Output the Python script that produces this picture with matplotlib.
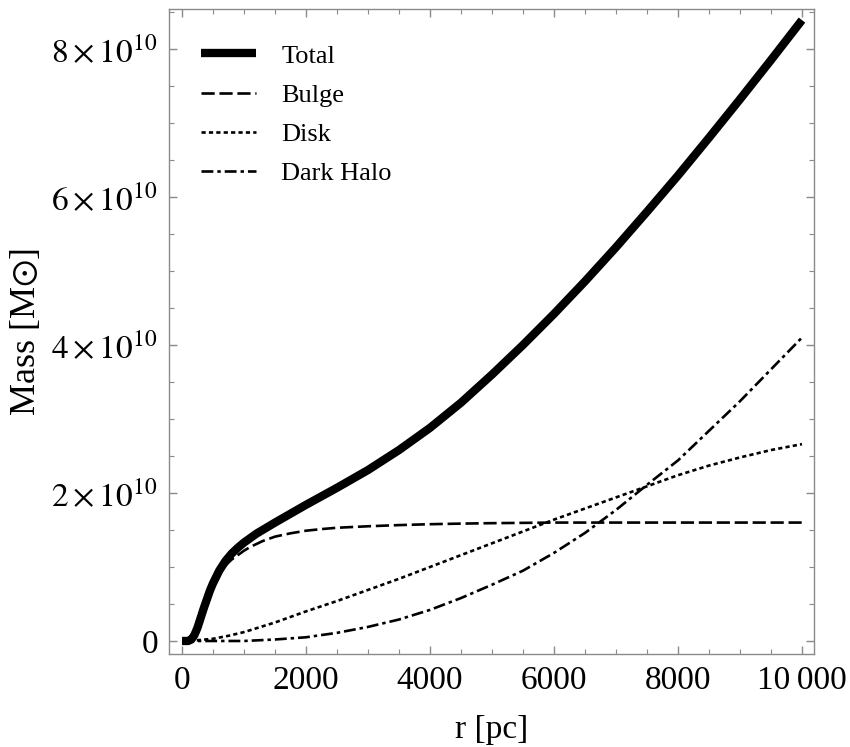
import matplotlib
matplotlib.use("Agg")
import matplotlib.pyplot as plt
from matplotlib.ticker import MultipleLocator, FixedLocator, FixedFormatter

plt.rcParams['font.family'] = ['Liberation Serif', 'DejaVu Serif']
plt.rcParams['mathtext.fontset'] = 'stix'

# radius grid [pc] for each series; masses in units of 1e10 solar masses
r_total = [0, 100, 150, 200, 250, 300, 350, 400, 450, 500, 600, 700, 800, 900, 1000, 1100,
           1200, 1300, 1400, 1500, 1750, 2000, 2500, 3000, 3500, 4000, 4500, 5000, 5500,
           6000, 6500, 7000, 7500, 8000, 8500, 9000, 9500, 10000]
m_total = [0, 0.0, 0.02, 0.08, 0.18, 0.31, 0.44, 0.56, 0.68, 0.78, 0.95, 1.08, 1.18, 1.26,
           1.33, 1.39, 1.45, 1.50, 1.55, 1.60, 1.72, 1.84, 2.07, 2.31, 2.58, 2.88, 3.22,
           3.60, 4.00, 4.42, 4.86, 5.32, 5.80, 6.29, 6.80, 7.32, 7.85, 8.39]

r_bulge = [0, 100, 150, 200, 250, 300, 350, 400, 450, 500, 600, 700, 800, 900, 1000, 1100,
           1200, 1300, 1400, 1500, 1750, 2000, 2250, 2500, 3000, 3500, 4000, 4500, 5000, 5500,
           6000, 7000, 8000, 9000, 10000]
m_bulge = [0, 0.0, 0.02, 0.08, 0.18, 0.31, 0.44, 0.56, 0.67, 0.76, 0.91, 1.02, 1.10, 1.16,
           1.22, 1.27, 1.31, 1.35, 1.38, 1.41, 1.455, 1.49, 1.512, 1.53, 1.55, 1.566, 1.578,
           1.586, 1.592, 1.596, 1.60, 1.60, 1.60, 1.60, 1.60]

r_disk = [0, 250, 500, 750, 1000, 1500, 2000, 2500, 3000, 3500, 4000, 4500, 5000, 5500,
          6000, 6500, 7000, 7500, 8000, 8500, 9000, 9500, 10000]
m_disk = [0, 0.01, 0.03, 0.07, 0.12, 0.25, 0.40, 0.54, 0.69, 0.84, 1.00, 1.16, 1.32, 1.48,
          1.64, 1.79, 1.94, 2.09, 2.24, 2.37, 2.48, 2.58, 2.66]

r_halo = [0, 500, 1000, 1500, 2000, 2500, 3000, 3500, 4000, 4500, 5000, 5500, 6000, 6500,
          7000, 7500, 8000, 8500, 9000, 9500, 10000]
m_halo = [0, 0.0, 0.0, 0.02, 0.05, 0.11, 0.19, 0.29, 0.42, 0.58, 0.76, 0.95, 1.19, 1.46,
          1.77, 2.11, 2.44, 2.84, 3.24, 3.67, 4.1]

scale = 1e10
labels = ["Total", "Bulge", "Disk", "Dark Halo"]
x_ticks = [0, 2000, 4000, 6000, 8000, 10000]
x_ticklabels = ["0", "2000", "4000", "6000", "8000", "10\u2009000"]
y_ticks = [0, 2e10, 4e10, 6e10, 8e10]
y_ticklabels = ["0", r"$2\times10^{10}$", r"$4\times10^{10}$", r"$6\times10^{10}$", r"$8\times10^{10}$"]

fig = plt.figure(figsize=(8.5, 7.47), dpi=100)
ax = fig.add_axes([169/850, 1 - 654/747, (814-169)/850, (654-9)/747])

ax.plot(r_total, [v*scale for v in m_total], color='black', lw=6.0, solid_capstyle='butt',
        solid_joinstyle='round', label=labels[0], zorder=5)
ax.plot(r_bulge, [v*scale for v in m_bulge], color='black', lw=1.9,
        linestyle=(0, (5, 1.8)), label=labels[1])
ax.plot(r_disk, [v*scale for v in m_disk], color='black', lw=1.9,
        linestyle=(0, (1.6, 1.2)), label=labels[2])
ax.plot(r_halo, [v*scale for v in m_halo], color='black', lw=1.9,
        linestyle=(0, (4.5, 1.5, 1.3, 1.5)), label=labels[3])

ax.set_xlim(-210, 10194)
ax.set_ylim(-1.76e9, 8.54e10)

ax.xaxis.set_major_locator(FixedLocator(x_ticks))
ax.xaxis.set_major_formatter(FixedFormatter(x_ticklabels))
ax.xaxis.set_minor_locator(MultipleLocator(500))
ax.yaxis.set_major_locator(FixedLocator(y_ticks))
ax.yaxis.set_major_formatter(FixedFormatter(y_ticklabels))
ax.yaxis.set_minor_locator(MultipleLocator(0.5e10))

gray = '#8a8a8a'
for s in ax.spines.values():
    s.set_color(gray)
    s.set_linewidth(1.0)
ax.tick_params(which='both', direction='in', top=True, right=True, color=gray,
               labelsize=24, labelcolor='black')
ax.tick_params(which='major', length=6, width=1.0, pad=8)
ax.tick_params(which='minor', length=3.5, width=0.8)

ax.set_xlabel("r [pc]", fontsize=24, labelpad=13.5)
ax.set_ylabel(r"Mass [M$\odot$]", fontsize=26, labelpad=6)

leg = ax.legend(loc='upper left', bbox_to_anchor=(0.033, 0.962), frameon=False,
                fontsize=19, handlelength=2.1, handletextpad=0.95, labelspacing=0.6,
                borderaxespad=0)

fig.savefig("out.png", dpi=100)
